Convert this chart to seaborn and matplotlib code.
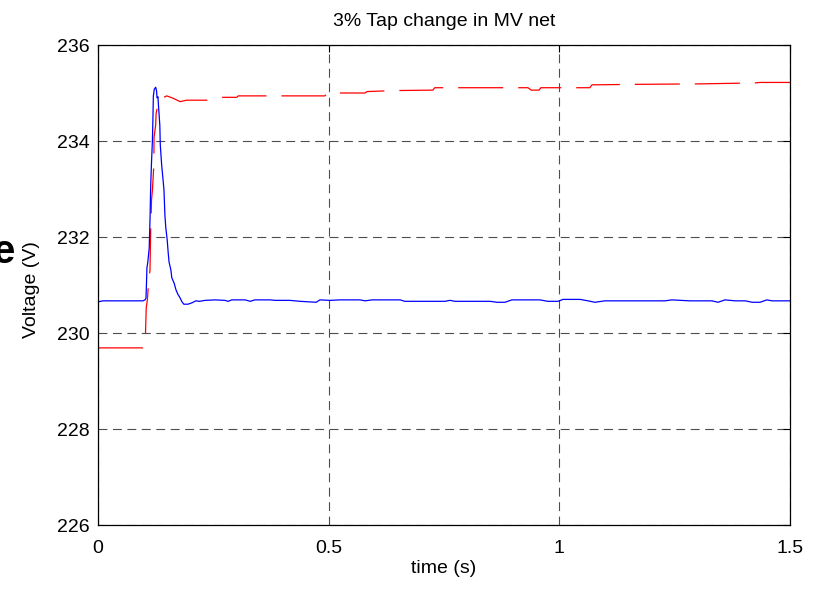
import matplotlib
matplotlib.use("Agg")
import matplotlib.pyplot as plt
import seaborn as sns
import pandas as pd

# Secondary-side voltage (blue) after a 3 % tap change in the MV network
t_blue = [0.0, 0.011, 0.0975, 0.102, 0.104, 0.105, 0.106, 0.108, 0.111, 0.113,
          0.114, 0.115, 0.116, 0.118, 0.119, 0.120, 0.122, 0.125, 0.127, 0.128,
          0.130, 0.131, 0.134, 0.135, 0.138, 0.141, 0.143, 0.145, 0.147, 0.150,
          0.152, 0.154, 0.158, 0.160, 0.165, 0.169, 0.173, 0.178, 0.182, 0.186,
          0.195, 0.204, 0.212, 0.220, 0.232, 0.254, 0.275, 0.282, 0.290, 0.319,
          0.330, 0.340, 0.373, 0.384, 0.416, 0.438, 0.473, 0.481, 0.503, 0.525,
          0.568, 0.579, 0.594, 0.655, 0.665, 0.752, 0.763, 0.774, 0.850, 0.865,
          0.882, 0.897, 0.958, 0.975, 0.997, 1.008, 1.045, 1.062, 1.077, 1.099,
          1.197, 1.229, 1.244, 1.283, 1.331, 1.344, 1.359, 1.381, 1.403, 1.418,
          1.435, 1.450, 1.461, 1.500]
v_blue = [230.65, 230.67, 230.67, 230.69, 230.73, 231.00, 231.35, 231.48, 231.77, 232.46,
          232.98, 233.29, 233.56, 234.02, 234.44, 234.94, 235.08, 235.12, 235.04, 234.90,
          234.92, 234.75, 234.33, 233.92, 233.50, 233.19, 232.98, 232.46, 232.19, 231.94,
          231.69, 231.48, 231.31, 231.15, 231.04, 230.90, 230.81, 230.73, 230.65, 230.60,
          230.60, 230.63, 230.67, 230.66, 230.68, 230.69, 230.68, 230.66, 230.69, 230.69,
          230.66, 230.69, 230.69, 230.68, 230.68, 230.66, 230.64, 230.69, 230.68, 230.69,
          230.69, 230.67, 230.69, 230.69, 230.66, 230.66, 230.68, 230.66, 230.66, 230.64,
          230.64, 230.69, 230.69, 230.66, 230.66, 230.70, 230.70, 230.67, 230.64, 230.67,
          230.67, 230.67, 230.69, 230.67, 230.67, 230.64, 230.69, 230.67, 230.67, 230.64,
          230.64, 230.69, 230.67, 230.67]

# Primary-side voltage (red, dashed)
t_red = [0.0, 0.0975, 0.0997, 0.103, 0.1045, 0.107, 0.109, 0.1127, 0.114, 0.116,
         0.118, 0.121, 0.1215, 0.125, 0.126, 0.130, 0.131, 0.149, 0.163, 0.178,
         0.192, 0.238, 0.271, 0.301, 0.304, 0.492, 0.496, 0.579, 0.583, 0.639,
         0.726, 0.730, 0.932, 0.939, 0.956, 0.960, 1.066, 1.071, 1.164, 1.305,
         1.424, 1.435, 1.500]
v_red = [229.69, 229.69, 229.73, 230.00, 230.52, 230.69, 230.96, 231.31, 232.04, 232.77,
         232.98, 233.50, 234.08, 234.33, 234.58, 234.75, 234.85, 234.94, 234.89, 234.82,
         234.85, 234.85, 234.91, 234.91, 234.94, 234.94, 235.00, 235.00, 235.03, 235.05,
         235.06, 235.11, 235.11, 235.06, 235.06, 235.11, 235.11, 235.17, 235.18, 235.19,
         235.21, 235.22, 235.22]

x_ticks = [0, 0.5, 1, 1.5]
x_tick_labels = ["0", "0.5", "1", "1.5"]
y_ticks = [226, 228, 230, 232, 234, 236]

sns.set_theme(style="white")
plt.rcParams["font.family"] = ["Liberation Sans", "DejaVu Sans"]

fig = plt.figure(figsize=(8.23, 5.89), dpi=100)
ax = fig.add_axes([98 / 823, 1 - 525 / 589, 692 / 823, 480 / 589])

blue = pd.DataFrame({"t": t_blue, "v": v_blue})
red = pd.DataFrame({"t": t_red, "v": v_red})

sns.lineplot(data=red, x="t", y="v", ax=ax, estimator=None, sort=False,
             color="#ff0000", linewidth=0.9, linestyle=(0, (36, 12)))
sns.lineplot(data=blue, x="t", y="v", ax=ax, estimator=None, sort=False,
             color="#0000ff", linewidth=0.9)

ax.set_xlim(0, 1.5)
ax.set_ylim(226, 236)
ax.set_xticks(x_ticks)
ax.set_xticklabels(x_tick_labels)
ax.set_yticks(y_ticks)

ax.grid(True, color="0.3", linestyle=(0, (8, 5)), linewidth=0.8)
for s in ax.spines.values():
    s.set_visible(True)
    s.set_color("black")
    s.set_linewidth(0.9)

ax.tick_params(axis="both", direction="in", length=5, width=0.8, colors="black",
               labelsize=14, top=True, right=True)
ax.tick_params(axis="y", pad=6)
ax.tick_params(axis="x", pad=11)

ax.set_title("3% Tap change in MV net", fontsize=14, color="black", pad=14)
ax.set_xlabel("time (s)", fontsize=14, color="black")
ax.set_ylabel("Voltage (V)", fontsize=14, color="black")
ax.xaxis.set_label_coords(0.5, -0.072)
ax.yaxis.set_label_coords(-0.084, 0.49)

# stray bold letter at the left edge
fig.text(-8 / 823, 1 - 263 / 589, "e", fontsize=29, fontweight="bold",
         color="black", ha="left", va="baseline")

fig.savefig("out.png", dpi=100)
